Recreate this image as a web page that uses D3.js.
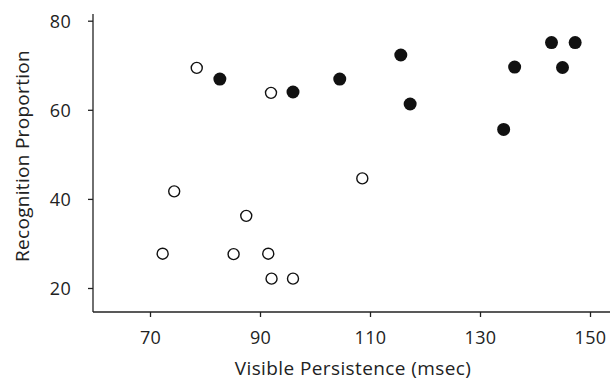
<!DOCTYPE html>
<html lang="en">
<head>
<meta charset="utf-8">
<title>Recognition vs Visible Persistence</title>
<script src="https://cdn.jsdelivr.net/npm/d3@7"></script>
<style>
  body { margin: 0; background: #fff; }
  #chart text { font-family: "Open Sans", sans-serif; fill: #222; }
  .axis path, .axis line { stroke: #222; stroke-width: 1.3; }
</style>
</head>
<body>
<div id="chart"></div>
<script>
// open circles
var openX = [78.5, 92.0, 74.4, 87.5, 72.3, 85.2, 91.5, 92.1, 96.0, 108.6];
var openY = [69.4, 63.8, 41.7, 36.2, 27.7, 27.6, 27.7, 22.1, 22.1, 44.6];
// filled circles
var fillX = [82.7, 96.0, 104.5, 115.6, 117.3, 134.3, 136.3, 143.0, 147.3, 145.0];
var fillY = [66.9, 64.0, 66.9, 72.3, 61.3, 55.6, 69.6, 75.1, 75.1, 69.5];

var xTicks = [70, 90, 110, 130, 150];
var yTicks = [20, 40, 60, 80];

var width = 610, height = 381;

var svg = d3.select("#chart").append("svg")
    .attr("width", width)
    .attr("height", height);

var x = d3.scaleLinear().domain([70, 150]).range([150, 590]);
var y = d3.scaleLinear().domain([20, 80]).range([288, 20.7]);

var xAxis = d3.axisBottom(x).tickValues(xTicks).tickSize(5).tickPadding(14).tickSizeOuter(0);
var yAxis = d3.axisLeft(y).tickValues(yTicks).tickSize(5).tickPadding(17).tickSizeOuter(0);

var gx = svg.append("g")
    .attr("class", "x axis")
    .attr("transform", "translate(0,312)")
    .call(xAxis);
gx.select(".domain").attr("d", "M93,0H610");
gx.selectAll("text").style("font-size", "18px").style("letter-spacing", "0.3px");

var gy = svg.append("g")
    .attr("class", "y axis")
    .attr("transform", "translate(93,0)")
    .call(yAxis);
gy.select(".domain").attr("d", "M0,14V312");
gy.selectAll("text").style("font-size", "18px").style("letter-spacing", "0.3px").attr("dy", "0.35em");

svg.append("text")
    .attr("x", 353)
    .attr("y", 375)
    .attr("text-anchor", "middle")
    .style("font-size", "19px")
    .style("letter-spacing", "0.4px")
    .text("Visible Persistence (msec)");

svg.append("text")
    .attr("transform", "translate(29,156) rotate(-90)")
    .attr("text-anchor", "middle")
    .style("font-size", "19px")
    .style("letter-spacing", "0.3px")
    .text("Recognition Proportion");

svg.selectAll("circle.open")
    .data(d3.range(openX.length))
    .enter()
    .append("circle")
    .attr("class", "open")
    .attr("cx", function(i) { return x(openX[i]); })
    .attr("cy", function(i) { return y(openY[i]); })
    .attr("r", 5.5)
    .attr("fill", "#fff")
    .attr("stroke", "#111")
    .attr("stroke-width", 1.4);

svg.selectAll("circle.filled")
    .data(d3.range(fillX.length))
    .enter()
    .append("circle")
    .attr("class", "filled")
    .attr("cx", function(i) { return x(fillX[i]); })
    .attr("cy", function(i) { return y(fillY[i]); })
    .attr("r", 6.5)
    .attr("fill", "#111");
</script>
</body>
</html>
